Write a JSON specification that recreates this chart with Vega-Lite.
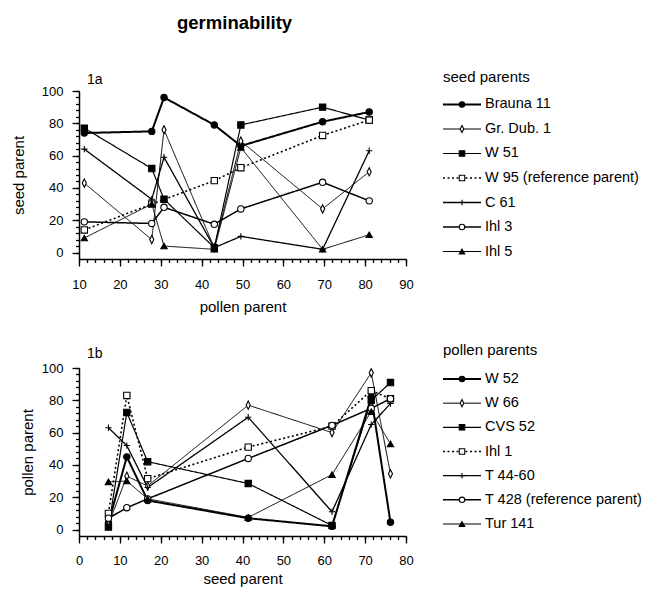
{
  "$schema": "https://vega.github.io/schema/vega-lite/v6.json",
  "padding": {"left": 11, "top": 13, "right": 2, "bottom": 2},
  "background": "white",
  "title": {"text": "germinability", "fontSize": 18.5, "fontWeight": "bold", "font": "Liberation Sans", "anchor": "start", "frame": "group", "dx": 98, "offset": 38, "color": "black"},
  "config": {
    "font": "Liberation Sans",
    "view": {"stroke": null},
    "axis": {"domainColor": "black", "tickColor": "black", "labelColor": "black", "titleColor": "black", "labelFont": "Liberation Sans", "titleFont": "Liberation Sans", "labelFontSize": 13, "titleFontSize": 15, "titleFontWeight": "normal", "grid": false, "ticks": true, "labelFlush": false, "labelOverlap": false, "labelBound": false, "domainWidth": 1.5, "tickWidth": 1.3},
    "title": {"font": "Liberation Sans", "color": "black", "fontWeight": "normal"}
  },
  "datasets": {
    "a": [
      {"x": 11.3, "y": 74, "s": "Brauna 11"}, {"x": 27.8, "y": 75, "s": "Brauna 11"}, {"x": 30.8, "y": 96, "s": "Brauna 11"}, {"x": 43.1, "y": 79, "s": "Brauna 11"}, {"x": 49.6, "y": 66, "s": "Brauna 11"}, {"x": 69.6, "y": 81, "s": "Brauna 11"}, {"x": 81, "y": 87, "s": "Brauna 11"},
      {"x": 11.3, "y": 43, "s": "Gr. Dub. 1"}, {"x": 27.8, "y": 8, "s": "Gr. Dub. 1"}, {"x": 30.8, "y": 76, "s": "Gr. Dub. 1"}, {"x": 43.1, "y": 3, "s": "Gr. Dub. 1"}, {"x": 49.6, "y": 69, "s": "Gr. Dub. 1"}, {"x": 69.6, "y": 27, "s": "Gr. Dub. 1"}, {"x": 81, "y": 50, "s": "Gr. Dub. 1"},
      {"x": 11.3, "y": 77, "s": "W 51"}, {"x": 27.8, "y": 52, "s": "W 51"}, {"x": 30.8, "y": 33, "s": "W 51"}, {"x": 43.1, "y": 3, "s": "W 51"}, {"x": 49.6, "y": 79, "s": "W 51"}, {"x": 69.6, "y": 90, "s": "W 51"}, {"x": 81, "y": 82, "s": "W 51"},
      {"x": 11.3, "y": 14, "s": "W 95 (reference parent)"}, {"x": 27.8, "y": 30, "s": "W 95 (reference parent)"}, {"x": 43.1, "y": 44.5, "s": "W 95 (reference parent)"}, {"x": 49.6, "y": 52.5, "s": "W 95 (reference parent)"}, {"x": 69.6, "y": 72.5, "s": "W 95 (reference parent)"}, {"x": 81, "y": 82, "s": "W 95 (reference parent)"},
      {"x": 11.3, "y": 64, "s": "C 61"}, {"x": 27.8, "y": 33, "s": "C 61"}, {"x": 30.8, "y": 59, "s": "C 61"}, {"x": 43.1, "y": 3, "s": "C 61"}, {"x": 49.6, "y": 10, "s": "C 61"}, {"x": 69.6, "y": 2, "s": "C 61"}, {"x": 81, "y": 63, "s": "C 61"},
      {"x": 11.3, "y": 19, "s": "Ihl 3"}, {"x": 27.8, "y": 18, "s": "Ihl 3"}, {"x": 30.8, "y": 28, "s": "Ihl 3"}, {"x": 43.1, "y": 17.5, "s": "Ihl 3"}, {"x": 49.6, "y": 27, "s": "Ihl 3"}, {"x": 69.6, "y": 43.5, "s": "Ihl 3"}, {"x": 81, "y": 32, "s": "Ihl 3"},
      {"x": 11.3, "y": 9, "s": "Ihl 5"}, {"x": 27.8, "y": 30, "s": "Ihl 5"}, {"x": 30.8, "y": 4, "s": "Ihl 5"}, {"x": 43.1, "y": 2, "s": "Ihl 5"}, {"x": 49.6, "y": 65, "s": "Ihl 5"}, {"x": 69.6, "y": 2, "s": "Ihl 5"}, {"x": 81, "y": 11, "s": "Ihl 5"}
    ],
    "la": [
      {"s": "Brauna 11"}, {"s": "Gr. Dub. 1"}, {"s": "W 51"}, {"s": "W 95 (reference parent)"}, {"s": "C 61"}, {"s": "Ihl 3"}, {"s": "Ihl 5"}
    ],
    "b": [
      {"x": 7.2, "y": 4, "s": "W 52"}, {"x": 11.7, "y": 45, "s": "W 52"}, {"x": 16.8, "y": 18, "s": "W 52"}, {"x": 41.4, "y": 7, "s": "W 52"}, {"x": 61.9, "y": 2, "s": "W 52"}, {"x": 71.5, "y": 82, "s": "W 52"}, {"x": 76.2, "y": 4.5, "s": "W 52"},
      {"x": 7.2, "y": 3, "s": "W 66"}, {"x": 11.7, "y": 33, "s": "W 66"}, {"x": 16.8, "y": 27, "s": "W 66"}, {"x": 41.4, "y": 77, "s": "W 66"}, {"x": 61.9, "y": 60, "s": "W 66"}, {"x": 71.5, "y": 97, "s": "W 66"}, {"x": 76.2, "y": 34.5, "s": "W 66"},
      {"x": 7.2, "y": 1.5, "s": "CVS 52"}, {"x": 11.7, "y": 72.5, "s": "CVS 52"}, {"x": 16.8, "y": 42, "s": "CVS 52"}, {"x": 41.4, "y": 28.5, "s": "CVS 52"}, {"x": 61.9, "y": 2.5, "s": "CVS 52"}, {"x": 71.5, "y": 80, "s": "CVS 52"}, {"x": 76.2, "y": 91, "s": "CVS 52"},
      {"x": 7.2, "y": 10, "s": "Ihl 1"}, {"x": 11.7, "y": 83, "s": "Ihl 1"}, {"x": 16.8, "y": 31.5, "s": "Ihl 1"}, {"x": 41.4, "y": 51, "s": "Ihl 1"}, {"x": 61.9, "y": 64, "s": "Ihl 1"}, {"x": 71.5, "y": 86, "s": "Ihl 1"}, {"x": 76.2, "y": 81, "s": "Ihl 1"},
      {"x": 7.2, "y": 63, "s": "T 44-60"}, {"x": 11.7, "y": 52, "s": "T 44-60"}, {"x": 16.8, "y": 26, "s": "T 44-60"}, {"x": 41.4, "y": 69.5, "s": "T 44-60"}, {"x": 61.9, "y": 11, "s": "T 44-60"}, {"x": 71.5, "y": 65, "s": "T 44-60"}, {"x": 76.2, "y": 78, "s": "T 44-60"},
      {"x": 7.2, "y": 7, "s": "T 428 (reference parent)"}, {"x": 11.7, "y": 13.5, "s": "T 428 (reference parent)"}, {"x": 16.8, "y": 19, "s": "T 428 (reference parent)"}, {"x": 41.4, "y": 44, "s": "T 428 (reference parent)"}, {"x": 61.9, "y": 64.5, "s": "T 428 (reference parent)"}, {"x": 71.5, "y": 75, "s": "T 428 (reference parent)"}, {"x": 76.2, "y": 81, "s": "T 428 (reference parent)"},
      {"x": 7.2, "y": 29.5, "s": "Tur 141"}, {"x": 11.7, "y": 30, "s": "Tur 141"}, {"x": 16.8, "y": 19, "s": "Tur 141"}, {"x": 41.4, "y": 7.5, "s": "Tur 141"}, {"x": 61.9, "y": 34, "s": "Tur 141"}, {"x": 71.5, "y": 73, "s": "Tur 141"}, {"x": 76.2, "y": 53, "s": "Tur 141"}
    ],
    "lb": [
      {"s": "W 52"}, {"s": "W 66"}, {"s": "CVS 52"}, {"s": "Ihl 1"}, {"s": "T 44-60"}, {"s": "T 428 (reference parent)"}, {"s": "Tur 141"}
    ]
  },
  "spacing": 28,
  "vconcat": [
    {
      "spacing": 28,
      "hconcat": [
        {
          "title": {"text": "1a", "anchor": "start", "frame": "group", "fontSize": 14, "dx": 8, "offset": -2},
          "width": 327,
          "height": 168,
          "data": {"name": "a"},
          "layer": [
            {
              "mark": {"type": "line", "color": "black"},
              "encoding": {
                "x": {"field": "x", "type": "quantitative", "scale": {"domain": [10, 90], "nice": false, "zero": false},
                  "axis": {"title": "pollen parent", "orient": "bottom", "values": [10,20,30,40,50,60,70,80,90], "tickSize": 7, "labelPadding": 12, "titlePadding": 8.5}},
                "y": {"field": "y", "type": "quantitative", "scale": {"domain": [-4, 100], "nice": false, "zero": false},
                  "axis": {"title": "seed parent", "orient": "left", "values": [0,20,40,60,80,100], "tickSize": 7, "labelPadding": 9, "titlePadding": 15}},
                "detail": {"field": "s"},
                "strokeDash": {"field": "s", "legend": null, "scale": {"domain": ["Brauna 11", "Gr. Dub. 1", "W 51", "W 95 (reference parent)", "C 61", "Ihl 3", "Ihl 5"], "range": [[1,0],[1,0],[1,0],[2,2.5],[1,0],[1,0],[1,0]]}},
                "strokeWidth": {"field": "s", "legend": null, "scale": {"type": "ordinal", "domain": ["Brauna 11", "Gr. Dub. 1", "W 51", "W 95 (reference parent)", "C 61", "Ihl 3", "Ihl 5"], "range": [2, 1, 1.2, 1.6, 1.3, 1.5, 1]}}
              }
            },
            {
              "mark": {"type": "point", "color": "black", "size": 40, "strokeWidth": 1.1, "opacity": 1},
              "encoding": {
                "x": {"field": "x", "type": "quantitative",
                  "axis": {"title": null, "orient": "bottom", "values": [10,12,14,16,18,20,22,24,26,28,30,32,34,36,38,40,42,44,46,48,50,52,54,56,58,60,62,64,66,68,70,72,74,76,78,80,82,84,86,88,90], "labels": false, "domain": false, "tickSize": 3.5}},
                "y": {"field": "y", "type": "quantitative",
                  "axis": {"title": null, "orient": "left", "values": [0,4,8,12,16,20,24,28,32,36,40,44,48,52,56,60,64,68,72,76,80,84,88,92,96,100], "labels": false, "domain": false, "tickSize": 3.5}},
                "shape": {"field": "s", "legend": null, "scale": {"domain": ["Brauna 11", "Gr. Dub. 1", "W 51", "W 95 (reference parent)", "C 61", "Ihl 3", "Ihl 5"], "range": ["circle", "M0,-1.3L0.65,0L0,1.3L-0.65,0Z", "square", "square", "M-1,0H1M0,-1V1", "circle", "triangle-up"]}},
                "fill": {"field": "s", "legend": null, "scale": {"domain": ["Brauna 11", "Gr. Dub. 1", "W 51", "W 95 (reference parent)", "C 61", "Ihl 3", "Ihl 5"], "range": ["black", "white", "black", "white", "black", "white", "black"]}}
              }
            }
          ],
          "resolve": {"axis": {"x": "independent", "y": "independent"}}
        },
        {
          "title": {"text": "seed parents", "anchor": "start", "frame": "group", "fontSize": 15, "offset": 6},
          "width": 200,
          "height": 174,
          "data": {"name": "la"},
          "encoding": {
            "y": {"field": "s", "type": "nominal", "axis": null, "sort": null, "scale": {"type": "point", "padding": 0.55, "domain": ["Brauna 11", "Gr. Dub. 1", "W 51", "W 95 (reference parent)", "C 61", "Ihl 3", "Ihl 5"]}}
          },
          "layer": [
            {
              "mark": {"type": "rule", "color": "black"},
              "encoding": {
                "x": {"datum": 0, "type": "quantitative", "scale": {"domain": [0, 200], "nice": false, "zero": false}, "axis": null},
                "x2": {"datum": 38},
                "strokeDash": {"field": "s", "legend": null, "scale": {"domain": ["Brauna 11", "Gr. Dub. 1", "W 51", "W 95 (reference parent)", "C 61", "Ihl 3", "Ihl 5"], "range": [[1,0],[1,0],[1,0],[2,2.5],[1,0],[1,0],[1,0]]}},
                "strokeWidth": {"field": "s", "legend": null, "scale": {"type": "ordinal", "domain": ["Brauna 11", "Gr. Dub. 1", "W 51", "W 95 (reference parent)", "C 61", "Ihl 3", "Ihl 5"], "range": [1.2, 1.2, 1, 1.3, 1.4, 1, 1.4]}}
              }
            },
            {
              "mark": {"type": "point", "color": "black", "size": 30, "strokeWidth": 1.1, "opacity": 1},
              "encoding": {
                "x": {"datum": 19, "type": "quantitative"},
                "shape": {"field": "s", "legend": null, "scale": {"domain": ["Brauna 11", "Gr. Dub. 1", "W 51", "W 95 (reference parent)", "C 61", "Ihl 3", "Ihl 5"], "range": ["circle", "M0,-1.3L0.65,0L0,1.3L-0.65,0Z", "square", "square", "M-1,0H1M0,-1V1", "circle", "triangle-up"]}},
                "fill": {"field": "s", "legend": null, "scale": {"domain": ["Brauna 11", "Gr. Dub. 1", "W 51", "W 95 (reference parent)", "C 61", "Ihl 3", "Ihl 5"], "range": ["black", "white", "black", "white", "black", "white", "black"]}}
              }
            },
            {
              "mark": {"type": "text", "align": "left", "baseline": "middle", "fontSize": 14.5, "color": "black", "font": "Liberation Sans"},
              "encoding": {
                "x": {"datum": 42, "type": "quantitative"},
                "text": {"field": "s"}
              }
            }
          ]
        }
      ]
    },
    {
      "spacing": 28,
      "hconcat": [
        {
          "title": {"text": "1b", "anchor": "start", "frame": "group", "fontSize": 14, "dx": 8, "offset": 1},
          "width": 327,
          "height": 168,
          "data": {"name": "b"},
          "layer": [
            {
              "mark": {"type": "line", "color": "black"},
              "encoding": {
                "x": {"field": "x", "type": "quantitative", "scale": {"domain": [0, 80], "nice": false, "zero": false},
                  "axis": {"title": "seed parent", "orient": "bottom", "values": [0,10,20,30,40,50,60,70,80], "tickSize": 7, "labelPadding": 11, "titlePadding": 4}},
                "y": {"field": "y", "type": "quantitative", "scale": {"domain": [-4, 100], "nice": false, "zero": false},
                  "axis": {"title": "pollen parent", "orient": "left", "values": [0,20,40,60,80,100], "tickSize": 7, "labelPadding": 9, "titlePadding": 6}},
                "detail": {"field": "s"},
                "strokeDash": {"field": "s", "legend": null, "scale": {"domain": ["W 52", "W 66", "CVS 52", "Ihl 1", "T 44-60", "T 428 (reference parent)", "Tur 141"], "range": [[1,0],[1,0],[1,0],[1.5,1.5],[1,0],[2,2.5],[1,0]]}},
                "strokeWidth": {"field": "s", "legend": null, "scale": {"type": "ordinal", "domain": ["W 52", "W 66", "CVS 52", "Ihl 1", "T 44-60", "T 428 (reference parent)", "Tur 141"], "range": [2, 1.3, 1.5, 1, 1.5, 2, 1]}}
              }
            },
            {
              "mark": {"type": "point", "color": "black", "size": 40, "strokeWidth": 1.1, "opacity": 1},
              "encoding": {
                "x": {"field": "x", "type": "quantitative",
                  "axis": {"title": null, "orient": "bottom", "values": [0,2,4,6,8,10,12,14,16,18,20,22,24,26,28,30,32,34,36,38,40,42,44,46,48,50,52,54,56,58,60,62,64,66,68,70,72,74,76,78,80], "labels": false, "domain": false, "tickSize": 3.5}},
                "y": {"field": "y", "type": "quantitative",
                  "axis": {"title": null, "orient": "left", "values": [0,4,8,12,16,20,24,28,32,36,40,44,48,52,56,60,64,68,72,76,80,84,88,92,96,100], "labels": false, "domain": false, "tickSize": 3.5}},
                "shape": {"field": "s", "legend": null, "scale": {"domain": ["W 52", "W 66", "CVS 52", "Ihl 1", "T 44-60", "T 428 (reference parent)", "Tur 141"], "range": ["circle", "M0,-1.3L0.65,0L0,1.3L-0.65,0Z", "square", "square", "M-1,0H1M0,-1V1", "circle", "triangle-up"]}},
                "fill": {"field": "s", "legend": null, "scale": {"domain": ["W 52", "W 66", "CVS 52", "Ihl 1", "T 44-60", "T 428 (reference parent)", "Tur 141"], "range": ["black", "white", "black", "white", "black", "white", "black"]}}
              }
            }
          ],
          "resolve": {"axis": {"x": "independent", "y": "independent"}}
        },
        {
          "title": {"text": "pollen parents", "anchor": "start", "frame": "group", "fontSize": 15, "offset": 10},
          "width": 200,
          "height": 167,
          "data": {"name": "lb"},
          "encoding": {
            "y": {"field": "s", "type": "nominal", "axis": null, "sort": null, "scale": {"type": "point", "padding": 0.455, "domain": ["W 52", "W 66", "CVS 52", "Ihl 1", "T 44-60", "T 428 (reference parent)", "Tur 141"]}}
          },
          "layer": [
            {
              "mark": {"type": "rule", "color": "black"},
              "encoding": {
                "x": {"datum": 0, "type": "quantitative", "scale": {"domain": [0, 200], "nice": false, "zero": false}, "axis": null},
                "x2": {"datum": 38},
                "strokeDash": {"field": "s", "legend": null, "scale": {"domain": ["W 52", "W 66", "CVS 52", "Ihl 1", "T 44-60", "T 428 (reference parent)", "Tur 141"], "range": [[1,0],[1,0],[1,0],[1.5,1.5],[1,0],[2,2.5],[1,0]]}},
                "strokeWidth": {"field": "s", "legend": null, "scale": {"type": "ordinal", "domain": ["W 52", "W 66", "CVS 52", "Ihl 1", "T 44-60", "T 428 (reference parent)", "Tur 141"], "range": [1.2, 1.4, 1.2, 1, 1.4, 1.5, 1.3]}}
              }
            },
            {
              "mark": {"type": "point", "color": "black", "size": 30, "strokeWidth": 1.1, "opacity": 1},
              "encoding": {
                "x": {"datum": 19, "type": "quantitative"},
                "shape": {"field": "s", "legend": null, "scale": {"domain": ["W 52", "W 66", "CVS 52", "Ihl 1", "T 44-60", "T 428 (reference parent)", "Tur 141"], "range": ["circle", "M0,-1.3L0.65,0L0,1.3L-0.65,0Z", "square", "square", "M-1,0H1M0,-1V1", "circle", "triangle-up"]}},
                "fill": {"field": "s", "legend": null, "scale": {"domain": ["W 52", "W 66", "CVS 52", "Ihl 1", "T 44-60", "T 428 (reference parent)", "Tur 141"], "range": ["black", "white", "black", "white", "black", "white", "black"]}}
              }
            },
            {
              "mark": {"type": "text", "align": "left", "baseline": "middle", "fontSize": 14.5, "color": "black", "font": "Liberation Sans"},
              "encoding": {
                "x": {"datum": 42, "type": "quantitative"},
                "text": {"field": "s"}
              }
            }
          ]
        }
      ]
    }
  ]
}
